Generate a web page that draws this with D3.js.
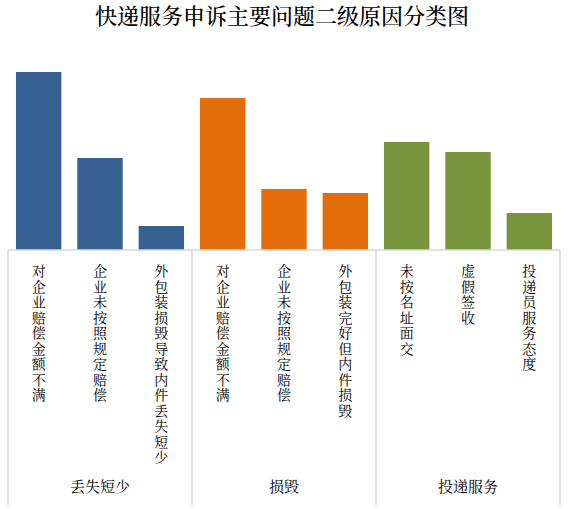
<!DOCTYPE html>
<html>
<head>
  <meta charset="utf-8">
  <title>快递服务申诉主要问题二级原因分类图</title>
  <script src="https://d3js.org/d3.v7.min.js"></script>
  <style>
    body { margin: 0; background: #fff; }
    text { font-family: "Noto Serif CJK SC", "Noto Sans CJK SC", sans-serif; fill: #000; }
    .vlabel { writing-mode: vertical-rl; text-orientation: upright; }
  </style>
</head>
<body>
<script>
  // data (no value axis, so heights are relative)
  const groups = ["丢失短少", "损毁", "投递服务"];
  const categories = ["对企业赔偿金额不满", "企业未按照规定赔偿", "外包装损毁导致内件丢失短少",
                      "对企业赔偿金额不满", "企业未按照规定赔偿", "外包装完好但内件损毁",
                      "未按名址面交", "虚假签收", "投递员服务态度"];
  const groupOf = [0, 0, 0, 1, 1, 1, 2, 2, 2];
  const values = [178, 92, 24, 152, 61, 57, 108, 98, 37];
  const colors = ["#376092", "#e46c0a", "#77933c"];

  var width = 571, height = 509;
  var margin = {top: 72, left: 8, right: 11, axis: 250};

  var svg = d3.select("body").append("svg")
    .attr("width", width)
    .attr("height", height);

  svg.append("text")
    .attr("x", 282)
    .attr("y", 24)
    .attr("text-anchor", "middle")
    .style("font-size", "22px")
    .style("font-weight", "500")
    .text("快递服务申诉主要问题二级原因分类图");

  var idx = d3.range(categories.length);

  var x = d3.scaleBand()
    .domain(idx)
    .range([margin.left, width - margin.right])
    .paddingInner(0.26)
    .paddingOuter(0.13);

  var y = d3.scaleLinear()
    .domain([0, d3.max(values)])
    .range([margin.axis, margin.top]);

  svg.append("g")
    .selectAll("rect")
    .data(idx)
    .join("rect")
      .attr("x", i => x(i))
      .attr("width", x.bandwidth())
      .attr("y", i => y(values[i]))
      .attr("height", i => y(0) - y(values[i]))
      .attr("fill", i => colors[groupOf[i]]);

  // category axis: base line + group separators
  var half = x.step() * x.paddingInner() / 2;
  var bounds = [x.range()[0]];
  groups.forEach(function(g, gi) {
    var last = d3.max(idx.filter(i => groupOf[i] == gi));
    bounds.push(gi == groups.length - 1 ? x.range()[1] : x(last) + x.bandwidth() + half);
  });

  var axis = svg.append("g").attr("stroke", "#d9d9d9").attr("stroke-width", 1.5);
  axis.append("line")
    .attr("x1", x.range()[0]).attr("x2", x.range()[1])
    .attr("y1", y(0)).attr("y2", y(0));
  axis.selectAll(".sep")
    .data(bounds)
    .join("line")
      .attr("class", "sep")
      .attr("x1", d => d).attr("x2", d => d)
      .attr("y1", y(0)).attr("y2", 506);

  // stacked (vertical) category labels
  svg.append("g")
    .style("font-size", "14px")
    .style("letter-spacing", "1.5px")
    .selectAll("text")
    .data(idx)
    .join("text")
      .attr("class", "vlabel")
      .attr("x", i => x(i) + x.bandwidth() / 2)
      .attr("y", y(0) + 14)
      .text(i => categories[i]);

  svg.append("g")
    .attr("text-anchor", "middle")
    .style("font-size", "15px")
    .selectAll("text")
    .data(groups)
    .join("text")
      .attr("x", (g, gi) => (bounds[gi] + bounds[gi + 1]) / 2)
      .attr("y", 492)
      .text(g => g);
</script>
</body>
</html>
